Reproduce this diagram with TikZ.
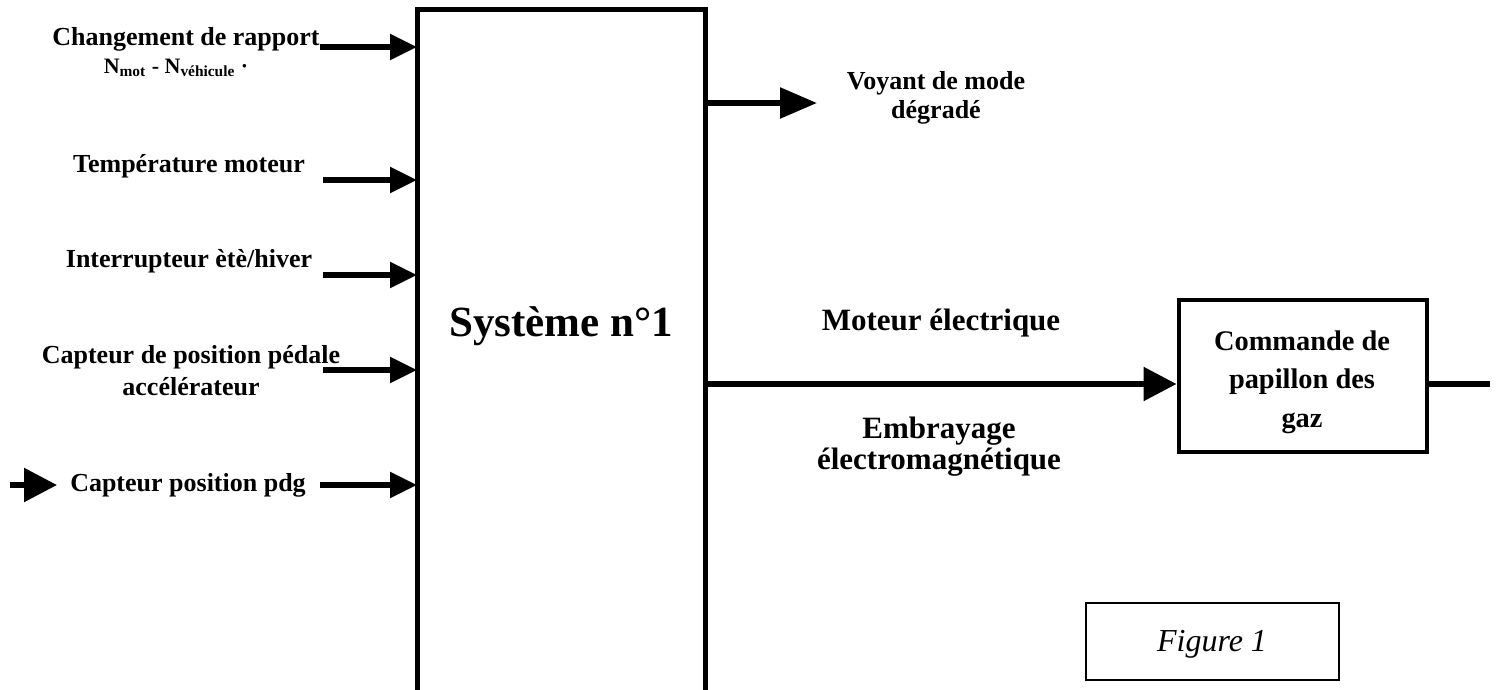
\documentclass[tikz,border=0pt]{standalone}
\usepackage{fontspec}
\setmainfont{Liberation Serif}
\usetikzlibrary{arrows.meta}
\begin{document}
\begin{tikzpicture}[x=0.5pt,y=-0.5pt,
  lbl/.style={font=\bfseries\fontsize{13}{16}\selectfont, align=center, inner sep=0pt},
  rlbl/.style={font=\bfseries\fontsize{15.5}{15.5}\selectfont, align=center, inner sep=0pt},
  boxline/.style={line width=2.5pt, line join=miter},
  inarr/.style={line width=2.7pt, -{Triangle[length=13.5pt,width=12.5pt]}},
  bigarr/.style={line width=2.8pt, -{Triangle[length=16.5pt,width=16.5pt]}},
  voyarr/.style={line width=2.8pt, -{Triangle[length=18.5pt,width=15pt]}}
]
\useasboundingbox (0,0) rectangle (1496,690);

% main system box (open at the bottom)
\coordinate (sysTL) at (417,10);
\coordinate (sysTR) at (705,10);
\coordinate (sysBL) at (417,700);
\coordinate (sysBR) at (705,700);
\draw[boxline] (sysBL) -- (sysTL) -- (sysTR) -- (sysBR);
\node[font=\bfseries\fontsize{21.5}{24}\selectfont, inner sep=0pt] (systxt) at (561,326) {Système n°1};

% inputs
\node[lbl] (in1) at (186,39) {Changement de rapport};
\node[font=\bfseries\fontsize{11}{12}\selectfont, inner sep=0pt] (in1b) at (176,68) {N\textsubscript{mot} - N\textsubscript{véhicule} ·};
\coordinate (in1s) at (320,47);
\draw[inarr] (in1s) -- (in1s -| sysTL);

\node[lbl] (in2) at (189,166) {Température moteur};
\coordinate (in2s) at (323,180);
\draw[inarr] (in2s) -- (in2s -| sysTL);

\node[lbl] (in3) at (189,261) {Interrupteur ètè/hiver};
\coordinate (in3s) at (323,275);
\draw[inarr] (in3s) -- (in3s -| sysTL);

\node[lbl] (in4) at (191,371) {Capteur de position pédale\\accélérateur};
\coordinate (in4s) at (323,370);
\draw[inarr] (in4s) -- (in4s -| sysTL);

\node[lbl] (in5) at (188,485) {Capteur position pdg};
\coordinate (in5s) at (320,485);
\draw[inarr] (in5s) -- (in5s -| sysTL);
\coordinate (in5a) at (10,485);
\coordinate (in5b) at (57,485);
\draw[bigarr] (in5a) -- (in5b);

% outputs
\node[lbl, font=\bfseries\fontsize{13}{14.5}\selectfont] (voy) at (936,98) {Voyant de mode\\dégradé};
\coordinate (voys) at (705,103);
\coordinate (voye) at (817,103);
\draw[voyarr] (voys) -- (voye);

\node[rlbl] (mot) at (941,323) {Moteur électrique};
\node[rlbl] (emb) at (939,447) {Embrayage\\électromagnétique};

\node[draw, line width=2pt, minimum width=124pt, minimum height=76pt, inner sep=0pt] (cmd) at (1302.5,376) {};
\node[font=\bfseries\fontsize{14.2}{19.2}\selectfont, align=center, inner sep=0pt] (cmdtxt) at (1302,382) {Commande de\\papillon des\\gaz};
\coordinate (mids) at (705,384);
\draw[bigarr] (mids) -- (mids -| cmd.west);
\coordinate (cmdo) at (1490,384);
\draw[line width=2.8pt] (cmdo -| cmd.east) -- (cmdo);

% figure label
\node[draw, line width=0.8pt, minimum width=126.5pt, minimum height=38.5pt, inner sep=0pt] (fig) at (1212.5,641.5) {};
\node[font=\itshape\fontsize{16}{18}\selectfont, inner sep=0pt] (figtxt) at (1212,644) {Figure 1};
\end{tikzpicture}
\end{document}
